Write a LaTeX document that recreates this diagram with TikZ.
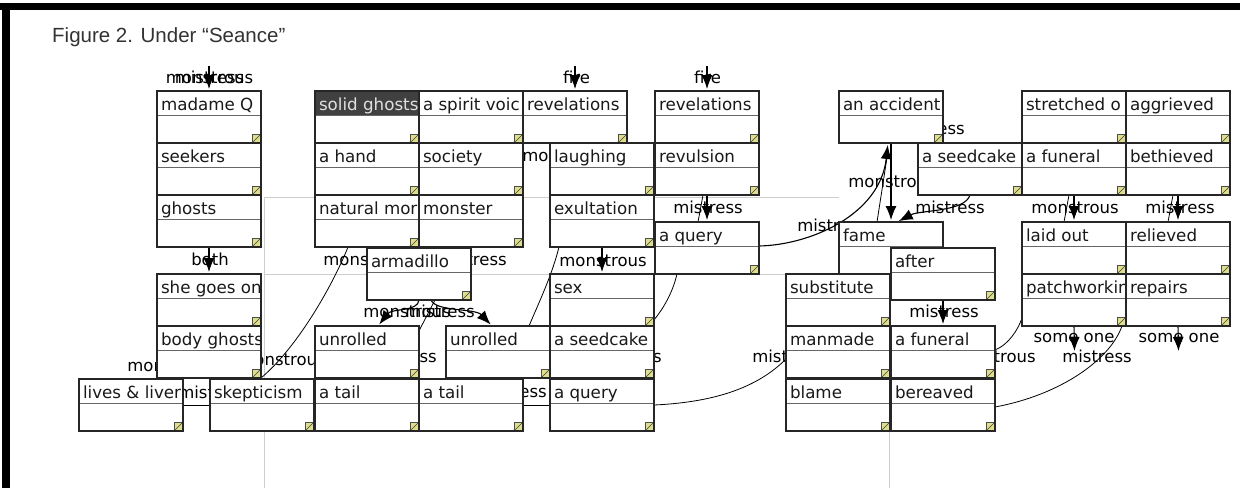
\documentclass[tikz,border=0pt]{standalone}
\usepackage{fontspec}
\newfontfamily\dvfont{DejaVu Sans}
\newfontfamily\libfont{Liberation Sans}
\usetikzlibrary{arrows.meta}
\pgfdeclarelayer{bg}
\pgfsetlayers{bg,main}
\definecolor{cornfill}{RGB}{222,222,140}
\definecolor{framegray}{RGB}{205,205,205}
\tikzset{
  bxs/.style={draw=black!85, line width=1.1pt, fill=white, minimum width=104pt, minimum height=52pt, inner sep=0pt, outer sep=0pt},
  sepl/.style={draw=black!60, line width=0.6pt},
  ttl/.style={anchor=base west, inner sep=0pt, outer sep=0pt, font=\dvfont\fontsize{16.7}{18}\selectfont, text=black!90},
  cornr/.style={draw=black!70, line width=0.6pt, fill=cornfill},
  lbl/.style={anchor=base, inner sep=0pt, font=\dvfont\fontsize{16.5}{18}\selectfont, text=black},
  conn/.style={draw=black, line width=0.8pt},
  arr/.style={draw=black, line width=1.1pt, -{Latex[length=14pt,width=11pt]}, shorten >=2pt},
  ttlbg/.style={},
  ttltxt/.style={},
}
\newcommand\qbox[5][]{%
  \begin{scope}[#1]
  \node[bxs] (#2) at (#3+52,#4+26) {};
  \path[ttlbg] (#2.north west) rectangle ([yshift=-24pt]#2.north east);
  \draw[sepl] ([yshift=-24pt]#2.north west) -- ([yshift=-24pt]#2.north east);
  \begin{scope}
    \clip (#2.north west) rectangle ([yshift=-24pt]#2.north east);
    \node[ttl,ttltxt] (#2-t) at ([xshift=4pt,yshift=-19pt]#2.north west) {#5};
  \end{scope}
  \draw[cornr] ([xshift=-9pt]#2.south east) rectangle ([yshift=9pt]#2.south east);
  \draw[black!75, line width=0.6pt] ([xshift=-8pt,yshift=1pt]#2.south east) -- ([xshift=-1pt,yshift=8pt]#2.south east);
  \draw[draw=black!85, line width=1.1pt] (#2.north west) rectangle (#2.south east);
  \end{scope}
}
\begin{document}
\begin{tikzpicture}[x=1pt,y=-1pt]
\useasboundingbox (0,0) rectangle (1250,488);
\begin{pgfonlayer}{bg}
\fill[white] (0,0) rectangle (1250,488);
\end{pgfonlayer}
% frame
\fill[black] (0,3) rectangle (1240,10);
\fill[black] (2,3) rectangle (10,488);
\node[anchor=base west, inner sep=0pt, font=\libfont\fontsize{20.5}{24}\selectfont, text=black!80] (title) at (52,42) {Figure 2. Under “Seance”};

% boxes
\qbox{mq}{157}{91}{madame Q}
\qbox{seek}{157}{143}{seekers}
\qbox{gh}{157}{195}{ghosts}
\qbox{sgo}{157}{274}{she goes on}
\qbox{bgh}{157}{326}{body ghosts}
\qbox{ll}{79}{379}{lives \& liver}
\qbox{sk}{210}{379}{skepticism}
\qbox[ttlbg/.style={fill=black!75},ttltxt/.style={text=white!88!black}]{sg}{315}{91}{solid ghosts}
\qbox{hand}{315}{143}{a hand}
\qbox{nm}{315}{195}{natural mor}
\qbox{ur1}{315}{326}{unrolled}
\qbox{tl1}{315}{379}{a tail}
\qbox{sv}{419}{91}{a spirit voic}
\qbox{soc}{419}{143}{society}
\qbox{mon}{419}{195}{monster}
\qbox{arm}{367}{248}{armadillo}
\qbox{ur2}{446}{326}{unrolled}
\qbox{tl2}{419}{379}{a tail}
\qbox{rv1}{523}{91}{revelations}
\qbox{lau}{550}{143}{laughing}
\qbox{exu}{550}{195}{exultation}
\qbox{sex}{550}{274}{sex}
\qbox{sc1}{550}{326}{a seedcake}
\qbox{q1}{550}{379}{a query}
\qbox{rv2}{655}{91}{revelations}
\qbox{rvl}{655}{143}{revulsion}
\qbox{q2}{655}{222}{a query}
\qbox{acc}{839}{91}{an accident}
\qbox{sc2}{918}{143}{a seedcake}
\qbox{fame}{839}{222}{fame}
\qbox{aft}{891}{248}{after}
\qbox{sub}{786}{274}{substitute}
\qbox{mm}{786}{326}{manmade}
\qbox{fu1}{891}{326}{a funeral}
\qbox{bl}{786}{379}{blame}
\qbox{ber}{891}{379}{bereaved}
\qbox{st}{1022}{91}{stretched o}
\qbox{agg}{1126}{91}{aggrieved}
\qbox{fu2}{1022}{143}{a funeral}
\qbox{beth}{1126}{143}{bethieved}
\qbox{lo}{1022}{222}{laid out}
\qbox{rel}{1126}{222}{relieved}
\qbox{pw}{1022}{274}{patchworkin}
\qbox{rep}{1126}{274}{repairs}

\begin{pgfonlayer}{bg}
% gray guide lines
\draw[framegray, line width=1pt] (839,197) -- (264,197) -- (264,488);
\draw[framegray, line width=1pt] (264,274) -- (889,274) -- (889,488);
% connectors
\coordinate (t-mq) at (209,66);
\coordinate (t-rv1) at (575,66);
\coordinate (t-rv2) at (707,66);
\draw[arr] (t-mq) -- (mq.north);
\draw[arr] (t-rv1) -- (rv1.north);
\draw[arr] (t-rv2) -- (rv2.north);
\draw[arr] (gh.south) -- (sgo.north);
\draw[conn] ([xshift=-19pt]nm.south) .. controls (335,280) and (300,345) .. (bgh.south east);
\draw[arr] (arm.south) .. controls (418,312) and (392,308) .. ([xshift=11pt]ur1.north);
\draw[arr] ([xshift=12pt]arm.south) .. controls (436,312) and (475,308) .. ([xshift=-6pt]ur2.north);
\draw[conn] ([xshift=16pt]arm.south) -- ([xshift=27pt]tl1.north);
\draw[conn] ([xshift=9pt]exu.south west) .. controls (552,275) and (540,300) .. ([xshift=31pt]ur2.north);
\draw[arr] (exu.south) -- (sex.north);
\draw[arr] (rvl.south) -- (q2.north);
\draw[conn] ([xshift=-4pt]rvl.south) -- ([xshift=-9pt]q2.north);
\draw[conn] ([xshift=-30pt]q2.south) .. controls (672,295) and (662,310) .. ([yshift=6pt]sex.south east);
\draw[conn] (q1.east) .. controls (720,402) and (760,385) .. ([yshift=-7pt]mm.west);
\draw[arr] ([yshift=2pt]q2.east) .. controls (810,245) and (880,215) .. ([xshift=-3pt]acc.south);
\draw[conn] ([xshift=-14pt]fame.north) -- ([xshift=-3pt,yshift=-8pt]acc.south);
\draw[arr] (acc.south) -- (fame.north);
\draw[arr] (sc2.south) .. controls (965,212) and (920,210) .. ([xshift=6pt]fame.north);
\draw[arr] (fu2.south) -- (lo.north);
\draw[conn] ([xshift=-5pt]fu2.south) -- ([xshift=-10pt]lo.north);
\draw[arr] (beth.south) -- (rel.north);
\draw[conn] ([xshift=-5pt]beth.south) -- ([xshift=-10pt]rel.north);
\draw[arr] (aft.south) -- (fu1.north);
\draw[conn] ([yshift=2pt]fu1.east) .. controls (1008,345) and (1018,330) .. ([yshift=8pt]pw.south west);
\draw[conn] ([yshift=-2pt]ber.east) .. controls (1060,395) and (1110,360) .. ([xshift=-4pt]pw.south east);
\coordinate (e-so1) at (1074.5,351);
\coordinate (e-so2) at (1178.5,351);
\draw[arr, shorten >=0pt] (pw.south) -- (e-so1);
\draw[arr, shorten >=0pt] (rep.south) -- (e-so2);
\draw[conn] (ll.east) -- (sk.west);
\draw[conn] (tl2.east) -- (q1.west);
% labels
\node[lbl] (l-mq1) at (209.5,83) {mistress};
\node[lbl] (l-mq2) at (209.5,83) {monstrous};
\node[lbl] (l-fire1) at (576.5,83) {fire};
\node[lbl] (l-fire2) at (707.5,83) {fire};
\node[lbl] (l-both) at (210,265) {both};
\node[lbl] (l-a1) at (367,265) {monstrous};
\node[lbl] (l-a2) at (472,265) {mistress};
\node[lbl] (l-a3) at (407,317) {monstrous};
\node[lbl] (l-a4) at (440,317) {mistress};
\node[lbl] (l-b1) at (171,371) {monstrous};
\node[lbl] (l-b2) at (282,365) {monstrous};
\node[lbl] (l-b3) at (213,398) {mistress};
\node[lbl] (l-u1) at (402,362) {mistress};
\node[lbl] (l-t1) at (512,397) {mistress};
\node[lbl] (l-s1) at (627,362) {mistress};
\node[lbl] (l-soc) at (566,161) {monstrous};
\node[lbl] (l-rvl) at (708,213) {mistress};
\node[lbl] (l-exu) at (603,266) {monstrous};
\node[lbl] (l-mm) at (787,362) {mistress};
\node[lbl] (l-fame) at (832,231) {mistress};
\node[lbl] (l-acc1) at (892,187) {monstrous};
\node[lbl] (l-acc2) at (930,134) {mistress};
\node[lbl] (l-sc2) at (950,213) {mistress};
\node[lbl] (l-fu2) at (1075,213) {monstrous};
\node[lbl] (l-beth) at (1180,213) {mistress};
\node[lbl] (l-aft) at (944,317) {mistress};
\node[lbl] (l-fu1) at (992,362) {monstrous};
\node[lbl] (l-so1) at (1074,342) {some one};
\node[lbl] (l-so2) at (1179,342) {some one};
\node[lbl] (l-ber) at (1097,362) {mistress};
\end{pgfonlayer}
\end{tikzpicture}
\end{document}
